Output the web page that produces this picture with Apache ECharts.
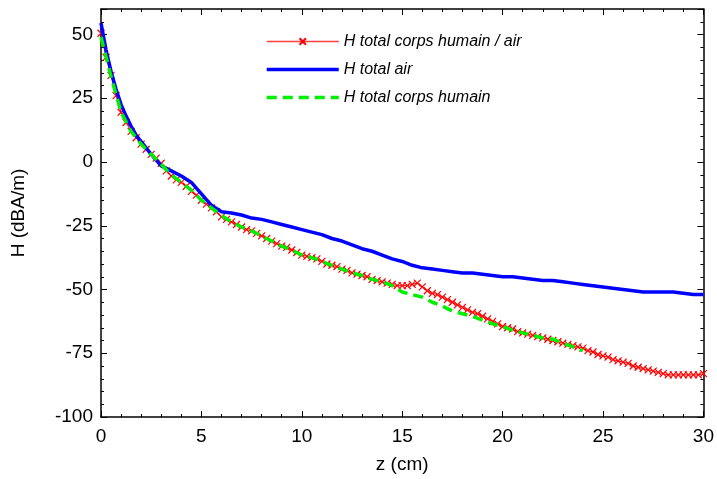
<!DOCTYPE html>
<html>
<head>
<meta charset="utf-8">
<script src="https://cdn.jsdelivr.net/npm/echarts@6/dist/echarts.min.js"></script>
<style>html,body{margin:0;padding:0;background:#fff}#c{width:717px;height:479px}</style>
</head>
<body>
<div id="c"></div>
<script>
var seriesNames = ['H total corps humain / air', 'H total air', 'H total corps humain'];

var zRed = [0,0.25,0.5,0.75,1,1.25,1.5,1.75,2,2.25,2.5,2.75,3,3.25,3.5,3.75,4,4.25,4.5,4.75,5,5.25,5.5,5.75,6,6.25,6.5,6.75,7,7.25,7.5,7.75,8,8.25,8.5,8.75,9,9.25,9.5,9.75,10,10.25,10.5,10.75,11,11.25,11.5,11.75,12,12.25,12.5,12.75,13,13.25,13.5,13.75,14,14.25,14.5,14.75,15,15.25,15.5,15.75,16,16.25,16.5,16.75,17,17.25,17.5,17.75,18,18.25,18.5,18.75,19,19.25,19.5,19.75,20,20.25,20.5,20.75,21,21.25,21.5,21.75,22,22.25,22.5,22.75,23,23.25,23.5,23.75,24,24.25,24.5,24.75,25,25.25,25.5,25.75,26,26.25,26.5,26.75,27,27.25,27.5,27.75,28,28.25,28.5,28.75,29,29.25,29.5,29.75,30];
var hRed = [50.5,41,34,26,19.5,15.5,12,9.5,7,5,3,1.5,-0.5,-3.5,-5.5,-7,-8,-9.5,-11.5,-13,-15,-16.5,-18,-19.5,-21.5,-22.5,-23.5,-24.5,-25.5,-26.5,-27,-28,-29,-30,-31,-32,-33,-33.5,-34.5,-35.5,-36.5,-37,-37.5,-38,-39,-40,-40.5,-41,-42,-42.5,-43.5,-44,-44.5,-45,-46,-46.5,-47,-47.5,-48,-48.5,-48.5,-48.5,-48,-47.5,-49,-50.5,-51.5,-52,-53,-54,-55,-56,-57,-58,-59,-59.5,-60.5,-61.5,-62.5,-63.5,-64.5,-65,-65.5,-66.5,-67,-67.5,-68,-68.5,-69,-69.5,-70,-70.5,-71,-71.5,-72,-72.5,-73,-74,-74.5,-75.5,-76,-76.5,-77.5,-78,-78.5,-79,-80,-80.5,-81,-81.5,-82,-82.5,-83,-83.5,-83.5,-83.5,-83.5,-83.5,-83.5,-83.5,-83];

var zAir = [0,0.25,0.5,0.75,1,1.25,1.5,1.75,2,2.5,3,3.5,4,4.5,5,5.5,6,6.5,7,7.5,8,8.5,9,9.5,10,10.5,11,11.5,12,12.5,13,13.5,14,14.5,15,15.5,16,16.5,17,17.5,18,18.5,19,19.5,20,20.5,21,21.5,22,22.5,23,23.5,24,24.5,25,25.5,26,26.5,27,27.5,28,28.5,29,29.5,30];
var hAir = [54.5,44,35.5,28.5,22.5,18,14,10.5,8,3,-1.5,-3.5,-5.5,-8,-12.5,-17,-19.5,-20,-20.8,-22,-22.5,-23.5,-24.5,-25.5,-26.5,-27.5,-28.5,-30,-31,-32.5,-34,-35,-36.5,-38,-39,-40.5,-41.5,-42,-42.5,-43,-43.5,-43.5,-44,-44.5,-45,-45,-45.5,-46,-46.5,-46.5,-47,-47.5,-48,-48.5,-49,-49.5,-50,-50.5,-51,-51,-51,-51,-51.5,-52,-52];

var zBody = [0,0.5,1,1.5,2,2.5,3,3.5,4,4.5,5,5.5,6,6.5,7,7.5,8,8.5,9,9.5,10,10.5,11,11.5,12,12.5,13,13.5,14,14.5,15,15.5,16,16.5,17,17.5,18,18.5,19,19.5,20,20.5,21,21.5,22,22.5,23,23.5,24];
var hBody = [49,33.5,19.5,12,7,3,-1,-5,-8,-11,-15,-18,-21,-23.5,-25.5,-27,-29,-31,-33,-34.5,-36.5,-37.5,-39,-40.5,-42,-43.5,-44.5,-46,-47,-48.5,-51,-52,-53,-55,-56.5,-58.5,-59.5,-60.5,-62,-63.5,-64.5,-66,-67,-68,-69,-69.5,-71,-72.5,-74];

function pairs(zs, hs){ return zs.map(function(z,i){ return [z, hs[i]]; }); }

var FONT = '"Liberation Sans", Arial, sans-serif';
var axisCommon = {
  axisLine: {show: true, onZero: false, lineStyle: {color: '#000', width: 1.5}},
  splitLine: {show: false},
  axisTick: {show: true, inside: true, length: 6, lineStyle: {color: '#000'}},
  minorTick: {show: true, splitNumber: 5, length: 3, lineStyle: {color: '#000'}}
};

var chart = echarts.init(document.getElementById('c'), null, {renderer: 'canvas'});
chart.setOption({
  animation: false,
  backgroundColor: '#fff',
  grid: {left: 101, right: 13, top: 9, bottom: 60, containLabel: false},
  legend: {
    orient: 'vertical', left: 260, top: 28,
    itemWidth: 72, itemHeight: 8, itemGap: 11,
    textStyle: {fontFamily: FONT, fontSize: 16, fontStyle: 'italic', color: '#000', lineHeight: 17},
    data: [
      {name: seriesNames[0], lineStyle: {width: 1.5, color: '#ff4040'}},
      {name: seriesNames[1], itemStyle: {opacity: 0}, lineStyle: {width: 3.5, color: '#0000ff'}},
      {name: seriesNames[2], itemStyle: {opacity: 0}, lineStyle: {width: 3.5, color: '#00ee00', type: [10, 6]}}
    ]
  },
  xAxis: [
    Object.assign({}, axisCommon, {
      type: 'value', position: 'bottom', min: 0, max: 30, interval: 5,
      name: 'z (cm)', nameLocation: 'middle', nameGap: 38,
      nameTextStyle: {fontFamily: FONT, fontSize: 19, color: '#000'},
      axisLabel: {fontFamily: FONT, fontSize: 19, color: '#000', margin: 10}
    }),
    Object.assign({}, axisCommon, {
      type: 'value', position: 'top', min: 0, max: 30, interval: 5,
      axisLabel: {show: false}
    })
  ],
  yAxis: [
    Object.assign({}, axisCommon, {
      type: 'value', position: 'left', min: -100, max: 60, interval: 25,
      name: 'H (dBA/m)', nameLocation: 'middle', nameGap: 73, nameRotate: 90,
      nameTextStyle: {fontFamily: FONT, fontSize: 19, color: '#000'},
      axisLabel: {fontFamily: FONT, fontSize: 19, color: '#000', margin: 8, showMaxLabel: false}
    }),
    Object.assign({}, axisCommon, {
      type: 'value', position: 'right', min: -100, max: 60, interval: 25,
      axisLabel: {show: false}
    })
  ],
  series: [
    {
      name: seriesNames[0], type: 'line', data: pairs(zRed, hRed),
      symbol: 'path://M0,0L10,10M10,0L0,10', symbolSize: 7, showSymbol: true,
      itemStyle: {color: 'none', borderColor: '#ff0000', borderWidth: 1.2},
      lineStyle: {color: '#ff0000', width: 1},
      color: '#ff0000', z: 2
    },
    {
      name: seriesNames[1], type: 'line', data: pairs(zAir, hAir),
      symbol: 'none', showSymbol: false,
      lineStyle: {color: '#0000ff', width: 3.5},
      itemStyle: {color: '#0000ff'}, color: '#0000ff', z: 3
    },
    {
      name: seriesNames[2], type: 'line', data: pairs(zBody, hBody),
      symbol: 'none', showSymbol: false,
      lineStyle: {color: '#00ee00', width: 3.5, type: [10, 6]},
      itemStyle: {color: '#00ee00'}, color: '#00ee00', z: 4
    }
  ]
});
</script>
</body>
</html>
